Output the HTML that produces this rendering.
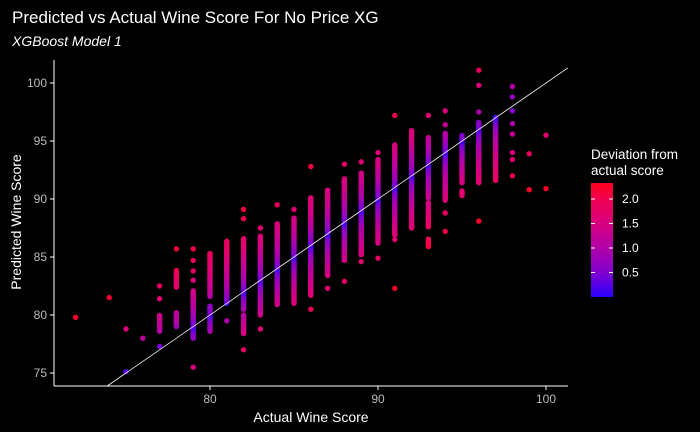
<!DOCTYPE html>
<html><head><meta charset="utf-8"><style>
body{margin:0;background:#000;}
svg{display:block;font-family:"Liberation Sans",sans-serif;}
</style></head><body>
<svg id="chart" width="700" height="432">
<rect width="700" height="432" fill="#000"/>
<text x="12" y="23" fill="#fff" font-size="17">Predicted vs Actual Wine Score For No Price XG</text>
<text x="12" y="46" fill="#fff" font-size="14" font-style="italic">XGBoost Model 1</text>
<g id="plot"></g>
<g id="axes"></g>
<text x="311" y="422" fill="#fff" font-size="14" text-anchor="middle">Actual Wine Score</text>
<text transform="translate(21,222) rotate(-90)" fill="#fff" font-size="14" text-anchor="middle">Predicted Wine Score</text>
<g>
<text x="591" y="159" fill="#fff" font-size="13.5">Deviation from</text>
<text x="591" y="175" fill="#fff" font-size="13.5">actual score</text>
<defs><linearGradient id="lg" x1="0" y1="1" x2="0" y2="0">
<stop offset="0" stop-color="#2a00ff"/><stop offset="0.21" stop-color="#8000d0"/><stop offset="0.43" stop-color="#b000a8"/><stop offset="0.64" stop-color="#d80080"/><stop offset="0.86" stop-color="#f00050"/><stop offset="1" stop-color="#ff0020"/></linearGradient></defs>
<rect x="591" y="183" width="22" height="114" fill="url(#lg)"/>
<g id="legticks"></g>
</g>
</svg>
<script>
const ns="http://www.w3.org/2000/svg";
const xTicks=[80,90,100];
const yTicks=[75,80,85,90,95,100];
const legTicks=[0.5,1.0,1.5,2.0];
const colActual=[77,78,78,79,80,80,81,82,82,83,84,85,86,87,88,89,90,91,92,93,93,93,94,95,95,96,97];
const colLo=[78.6,82.4,79.0,78.0,81.6,78.6,81.0,80.5,78.4,80.0,80.9,81.0,81.7,83.4,84.7,85.2,86.2,86.9,87.5,90.1,87.6,85.9,89.9,91.4,90.3,91.4,91.6];
const colHi=[80.0,83.9,80.2,82.1,85.3,80.8,86.4,86.6,80.0,86.8,87.9,88.4,90.1,90.8,91.8,92.3,93.4,94.7,95.9,95.3,89.7,86.6,95.7,95.5,90.7,96.6,97.1];
const ptActual=[72,74,75,75,76,77,77,77,78,79,79,79,79,79,80,81,82,82,82,83,83,84,85,86,86,87,88,88,89,89,90,90,91,91,91,93,94,94,94,94,96,96,96,96,98,98,98,98,98,98,98,98,99,99,100,100];
const ptPred=[79.8,81.5,78.8,75.1,78.0,82.5,81.4,77.3,85.7,85.7,84.7,83.8,83.0,75.5,85.3,79.5,89.1,88.3,77.0,87.5,78.8,89.5,89.1,92.8,80.5,82.3,93.0,82.9,93.2,84.6,94.0,84.9,86.5,82.3,97.2,97.2,97.6,96.4,88.8,87.2,101.1,99.8,97.5,88.1,99.7,98.8,97.6,96.5,95.6,94.0,93.4,92.0,93.9,90.8,95.5,90.9];
const X=a=>210+(a-80)*16.8, Y=v=>83+(100-v)*11.6;
const stops=[[0,[42,0,255]],[0.5,[128,0,208]],[1,[176,0,168]],[1.5,[216,0,128]],[2,[240,0,80]],[2.33,[255,0,32]]];
function col(d){d=Math.min(d,2.33);for(let i=1;i<stops.length;i++){if(d<=stops[i][0]){const t=(d-stops[i-1][0])/(stops[i][0]-stops[i-1][0]);const a=stops[i-1][1],b=stops[i][1];return`rgb(${a.map((c,k)=>Math.round(c+(b[k]-c)*t)).join(',')})`;}}return'rgb(255,0,32)';}
const plot=document.getElementById('plot');
function dot(a,v){const c=document.createElementNS(ns,'circle');


c.setAttribute('cx',X(a));c.setAttribute('cy',Y(v));c.setAttribute('r',2.7);c.setAttribute('fill',col(0.8*Math.sqrt(Math.abs(v-a))));plot.appendChild(c);}
for(let i=0;i<colActual.length;i++){for(let v=colLo[i];v<=colHi[i]+1e-6;v+=0.08)dot(colActual[i],v);}
for(let i=0;i<ptActual.length;i++)dot(ptActual[i],ptPred[i]);
const ln=document.createElementNS(ns,'line');


ln.setAttribute('x1',X(73.9));ln.setAttribute('y1',Y(73.9));ln.setAttribute('x2',X(101.3));ln.setAttribute('y2',Y(101.3));ln.setAttribute('stroke','#fff');ln.setAttribute('stroke-width','0.8');plot.appendChild(ln);
const axes=document.getElementById('axes');
function L(x1,y1,x2,y2,name){const l=document.createElementNS(ns,'line');


l.setAttribute('x1',x1);l.setAttribute('y1',y1);l.setAttribute('x2',x2);l.setAttribute('y2',y2);l.setAttribute('stroke','#fff');l.setAttribute('stroke-width','1');axes.appendChild(l);}
function T(x,y,s,anchor,name,parent){const t=document.createElementNS(ns,'text');


t.setAttribute('x',x);t.setAttribute('y',y);t.setAttribute('fill',parent?'#fff':'#bbb');t.setAttribute('font-size','12');t.setAttribute('text-anchor',anchor);t.textContent=s;(parent||axes).appendChild(t);}
L(54,60,54,386,'y-axis-line');L(54,386,568,386,'x-axis-line');
xTicks.forEach(v=>{L(X(v),386,X(v),390,'x-tick');T(X(v),403,v,'middle','x-tick-label');});
yTicks.forEach(v=>{L(50,Y(v),54,Y(v),'y-tick');T(47,Y(v)+4,v,'end','y-tick-label');});
const lt=document.getElementById('legticks');
legTicks.forEach(v=>{const y=297-v*49;
['591','609'].forEach(x=>{const l=document.createElementNS(ns,'line');


l.setAttribute('x1',x);l.setAttribute('x2',+x+4);l.setAttribute('y1',y);l.setAttribute('y2',y);l.setAttribute('stroke','#fff');lt.appendChild(l);});
T(622,y+4,v.toFixed(1),'start','legend-tick-label',lt);});
</script>
</body></html>
